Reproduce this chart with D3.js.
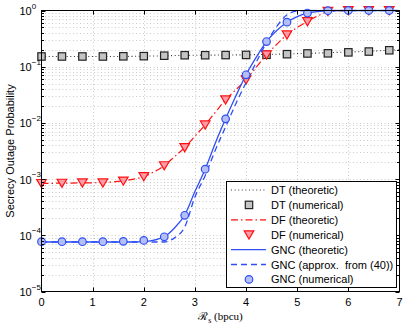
<!DOCTYPE html>
<html>
<head>
<meta charset="utf-8">
<script src="https://cdn.jsdelivr.net/npm/d3@7"></script>
<style>
  body { margin: 0; background: #fff; }
  svg { display: block; }
  text { font-family: "Liberation Sans", Arial, sans-serif; fill: #000; white-space: pre; }
</style>
</head>
<body>
<div id="chart"></div>
<script>
// x positions of the simulated (numerical) points
const xNum = [0, 0.4, 0.8, 1.2, 1.6, 2.0, 2.4, 2.8, 3.2, 3.6, 4.0, 4.4, 4.8, 5.2, 5.6, 6.0, 6.4, 6.8];
const dtNum = [0.152, 0.152, 0.152, 0.152, 0.153, 0.154, 0.157, 0.160, 0.160, 0.161, 0.162, 0.163, 0.167, 0.172, 0.173, 0.180, 0.186, 0.196];
const dfNum = [8.4e-4, 8.5e-4, 8.6e-4, 8.6e-4, 9.3e-4, 1.11e-3, 1.74e-3, 3.65e-3, 9.25e-3, 0.0258, 0.0585, 0.163, 0.37, 0.64, 0.97, 1, 1, 1];
const gncNum = [7.7e-5, 7.7e-5, 7.7e-5, 7.7e-5, 7.8e-5, 8.1e-5, 9.4e-5, 2.27e-4, 1.5e-3, 0.0118, 0.0718, 0.28, 0.62, 0.90, 0.99, 1, 1, 1];

// theoretic curves, read every 0.2 bpcu
const xTheo = [0, 0.2, 0.4, 0.6, 0.8, 1.0, 1.2, 1.4, 1.6, 1.8, 2.0, 2.2, 2.4, 2.6, 2.8, 3.0, 3.2, 3.4,
               3.6, 3.8, 4.0, 4.2, 4.4, 4.6, 4.8, 5.0, 5.2, 5.4, 5.6, 5.8, 6.0, 6.2, 6.4, 6.6, 6.8, 7.0];
const dtTheo = [0.152, 0.152, 0.152, 0.152, 0.152, 0.152, 0.152, 0.152, 0.152, 0.153, 0.154, 0.155,
                0.156, 0.158, 0.159, 0.160, 0.161, 0.161, 0.162, 0.162, 0.163, 0.164, 0.165, 0.167,
                0.169, 0.171, 0.173, 0.175, 0.177, 0.180, 0.182, 0.185, 0.188, 0.192, 0.196, 0.200];
const dfTheo = [8.4e-4, 8.4e-4, 8.5e-4, 8.5e-4, 8.6e-4, 8.6e-4, 8.7e-4, 8.9e-4, 9.3e-4, 1.0e-3, 1.11e-3, 1.35e-3,
                1.74e-3, 2.5e-3, 3.65e-3, 5.8e-3, 9.25e-3, 0.0155, 0.0258, 0.039, 0.0585, 0.098, 0.163, 0.25,
                0.37, 0.50, 0.64, 0.80, 0.95, 0.99, 1, 1, 1, 1, 1, 1];
const gncTheo = [7.6e-5, 7.6e-5, 7.6e-5, 7.6e-5, 7.6e-5, 7.6e-5, 7.6e-5, 7.6e-5, 7.6e-5, 7.6e-5, 7.7e-5, 8.2e-5,
                 9.4e-5, 1.35e-4, 2.3e-4, 6.0e-4, 1.5e-3, 4.4e-3, 0.0118, 0.030, 0.072, 0.148, 0.28, 0.44,
                 0.62, 0.78, 0.90, 0.96, 0.99, 1, 1, 1, 1, 1, 1, 1];
const gncApprox = [7.6e-5, 7.6e-5, 7.6e-5, 7.6e-5, 7.6e-5, 7.6e-5, 7.6e-5, 7.6e-5, 7.6e-5, 7.6e-5, 7.6e-5, 7.6e-5,
                   7.6e-5, 9.0e-5, 1.4e-4, 4.8e-4, 1.15e-3, 3.3e-3, 8.5e-3, 0.022, 0.052, 0.12, 0.27, 0.52,
                   0.84, 0.98, 1, 1, 1, 1, 1, 1, 1, 1, 1, 1];

const xTicks = [0, 1, 2, 3, 4, 5, 6, 7];
const yExps = [0, -1, -2, -3, -4, -5];
const legendLabels = ['DT (theoretic)', 'DT (numerical)', 'DF (theoretic)', 'DF (numerical)',
                      'GNC (theoretic)', 'GNC (approx.  from (40))', 'GNC (numerical)'];

(function() {
    const W = 415, H = 327;
    const pL = 41.5, pR = 399.5, pT = 10.5, pB = 291.5;

    const svg = d3.select('#chart').append('svg')
        .attr('width', W)
        .attr('height', H);

    const x = d3.scaleLinear().domain([0, 7]).range([pL, pR]);
    const y = d3.scaleLog().domain([1e-5, 1]).range([pB, pT]);

    // minor log ticks
    const yMinor = [];
    yExps.slice(0, -1).forEach(e => {
        for (let m = 2; m <= 9; m++) yMinor.push(m * Math.pow(10, e - 1));
    });
    const yMajor = yExps.map(e => Math.pow(10, e));

    // Grid
    const grid = svg.append('g')
        .attr('stroke', '#bdbdbd')
        .attr('stroke-width', 0.8)
        .attr('stroke-dasharray', '1,2.5');
    grid.selectAll('.gy')
        .data(yMajor.concat(yMinor).filter(v => v < 1 && v > 1e-5))
        .enter().append('line')
        .attr('x1', pL).attr('x2', pR)
        .attr('y1', d => Math.round(y(d)) + 0.5)
        .attr('y2', d => Math.round(y(d)) + 0.5);
    grid.selectAll('.gx')
        .data(xTicks.slice(1, -1))
        .enter().append('line')
        .attr('y1', pT).attr('y2', pB)
        .attr('x1', d => Math.round(x(d)) + 0.5)
        .attr('x2', d => Math.round(x(d)) + 0.5);

    // Clip for curves
    svg.append('clipPath').attr('id', 'plotclip')
        .append('rect')
        .attr('x', pL).attr('y', pT - 1)
        .attr('width', pR - pL).attr('height', pB - pT + 1);

    const line = d3.line()
        .x(d => x(d[0]))
        .y(d => y(d[1]))
        .curve(d3.curveMonotoneX);

    const zipTheo = vals => xTheo.map((v, i) => [v, vals[i]]);
    const zipNum = vals => xNum.map((v, i) => [v, vals[i]]);

    const blue = '#2f4ff5';
    const red = '#ff1010';

    const series = [
        { data: zipTheo(dtTheo), color: '#333', dash: '1,2.6', width: 1.1 },
        { data: zipTheo(dfTheo), color: red, dash: '7,3,1.5,3', width: 1.2 },
        { data: zipTheo(gncTheo), color: blue, dash: null, width: 1.3 },
        { data: zipTheo(gncApprox), color: blue, dash: '6,4', width: 1.3 }
    ];

    function drawCurve(s) {
        svg.append('path')
            .datum(s.data)
            .attr('clip-path', 'url(#plotclip)')
            .attr('d', line)
            .attr('fill', 'none')
            .attr('stroke', s.color)
            .attr('stroke-width', s.width)
            .attr('stroke-dasharray', s.dash);
    }

    // Marker shapes
    function square(g, cx, cy) {
        g.append('rect')
            .attr('x', cx - 3.7).attr('y', cy - 3.7)
            .attr('width', 7.4).attr('height', 7.4)
            .attr('fill', '#c4c4c4')
            .attr('stroke', '#222')
            .attr('stroke-width', 1.2);
    }
    function triangle(g, cx, cy) {
        const r = 4.8;
        g.append('path')
            .attr('d', `M${cx - r},${cy - r * 0.8}L${cx + r},${cy - r * 0.8}L${cx},${cy + r * 0.9}Z`)
            .attr('fill', '#ff9ca8')
            .attr('stroke', red)
            .attr('stroke-width', 1.2);
    }
    function circle(g, cx, cy) {
        g.append('circle')
            .attr('cx', cx).attr('cy', cy)
            .attr('r', 3.8)
            .attr('fill', '#b5bff5')
            .attr('stroke', blue)
            .attr('stroke-width', 1.2);
    }

    // draw in plotting order: DT, DF, GNC
    drawCurve(series[0]);
    const m1 = svg.append('g');
    zipNum(dtNum).forEach(d => square(m1, x(d[0]), y(d[1])));
    drawCurve(series[1]);
    const m2 = svg.append('g');
    zipNum(dfNum).forEach(d => triangle(m2, x(d[0]), y(d[1])));
    drawCurve(series[2]);
    drawCurve(series[3]);
    const m3 = svg.append('g');
    zipNum(gncNum).forEach(d => circle(m3, x(d[0]), y(d[1])));

    // Axes box and ticks
    const axes = svg.append('g').attr('stroke', '#000').attr('stroke-width', 1);
    axes.append('rect')
        .attr('x', pL).attr('y', pT)
        .attr('width', pR - pL).attr('height', pB - pT)
        .attr('fill', 'none');

    xTicks.slice(1, -1).forEach(v => {
        const px = Math.round(x(v)) + 0.5;
        axes.append('line').attr('x1', px).attr('x2', px).attr('y1', pB).attr('y2', pB - 4);
        axes.append('line').attr('x1', px).attr('x2', px).attr('y1', pT).attr('y2', pT + 4);
    });
    yMajor.forEach(v => {
        const py = Math.round(y(v)) + 0.5;
        axes.append('line').attr('x1', pL).attr('x2', pL + 4).attr('y1', py).attr('y2', py);
        axes.append('line').attr('x1', pR).attr('x2', pR - 4).attr('y1', py).attr('y2', py);
    });
    yMinor.forEach(v => {
        const py = Math.round(y(v)) + 0.5;
        axes.append('line').attr('x1', pL).attr('x2', pL + 2.5).attr('y1', py).attr('y2', py);
        axes.append('line').attr('x1', pR).attr('x2', pR - 2.5).attr('y1', py).attr('y2', py);
    });

    // Tick labels
    svg.selectAll('.xl')
        .data(xTicks)
        .enter().append('text')
        .attr('x', d => x(d))
        .attr('y', 306)
        .attr('text-anchor', 'middle')
        .attr('font-size', 11)
        .text(d => d);

    yExps.forEach(e => {
        const t = svg.append('text')
            .attr('x', 19.5)
            .attr('y', y(Math.pow(10, e)) + 4.5)
            .attr('font-size', 11);
        t.append('tspan').text('10');
        t.append('tspan')
            .attr('dy', -6.5)
            .attr('font-size', 8)
            .text(e === 0 ? '0' : '\u2212' + (-e));
    });

    // Axis titles
    svg.append('text')
        .attr('transform', `translate(14,${(pT + pB) / 2}) rotate(-90)`)
        .attr('text-anchor', 'middle')
        .attr('font-size', 11)
        .text('Secrecy Outage Probability');

    const xl = svg.append('text')
        .attr('x', (pL + pR) / 2)
        .attr('y', 320)
        .attr('text-anchor', 'middle')
        .style('font-family', '"Liberation Serif", "DejaVu Serif", serif')
        .attr('font-size', 11);
    xl.append('tspan').text('\u211B');
    xl.append('tspan').attr('dy', 2.5).attr('font-size', 8).text('s');
    xl.append('tspan').attr('dy', -2.5).text(' (bpcu)');

    // Legend
    const lg = svg.append('g');
    const lgX = 226.5, lgY = 181.5, lgW = 170, lgH = 106;
    lg.append('rect')
        .attr('x', lgX).attr('y', lgY)
        .attr('width', lgW).attr('height', lgH)
        .attr('fill', '#fff')
        .attr('stroke', '#000')
        .attr('stroke-width', 1);

    const rowY = i => 190 + i * 14.9;
    const sampleX1 = 231, sampleX2 = 266, markX = 249;
    const lineStyles = { 0: series[0], 2: series[1], 4: series[2], 5: series[3] };

    legendLabels.forEach((lab, i) => {
        const cy = rowY(i);
        if (lineStyles[i]) {
            const s = lineStyles[i];
            lg.append('line')
                .attr('x1', sampleX1).attr('x2', sampleX2)
                .attr('y1', cy).attr('y2', cy)
                .attr('stroke', s.color)
                .attr('stroke-width', s.width)
                .attr('stroke-dasharray', s.dash);
        } else if (i === 1) {
            square(lg, markX, cy);
        } else if (i === 3) {
            triangle(lg, markX, cy);
        } else {
            circle(lg, markX, cy);
        }
        lg.append('text')
            .attr('x', 271)
            .attr('y', cy + 4)
            .attr('font-size', 11)
            .text(lab);
    });
})();
</script>
</body>
</html>
